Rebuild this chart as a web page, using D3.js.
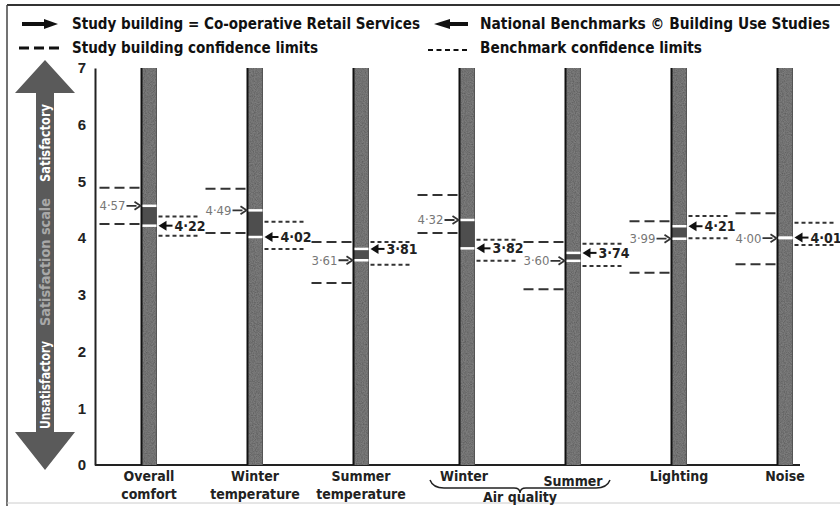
<!DOCTYPE html>
<html>
<head>
<meta charset="utf-8">
<script src="https://cdn.jsdelivr.net/npm/d3@7"></script>
<style>
  body { margin: 0; background: #fff; }
  svg { display: block; }
  text { font-family: "Liberation Sans Narrow", "DejaVu Sans Condensed", "Roboto", sans-serif; }
</style>
</head>
<body>
<svg></svg>
<script>
var width = 840,
  height = 506;

// categories and values
var categories = ["Overall comfort", "Winter temperature", "Summer temperature", "Air quality winter", "Air quality summer", "Lighting", "Noise"];
var xLabelLines = [["Overall", "comfort"], ["Winter", "temperature"], ["Summer", "temperature"], ["Winter"], ["Summer"], ["Lighting"], ["Noise"]];
var studyValues = [4.57, 4.49, 3.61, 4.32, 3.60, 3.99, 4.00];
var benchValues = [4.22, 4.02, 3.81, 3.82, 3.74, 4.21, 4.01];
var studyLow = [4.25, 4.09, 3.21, 4.09, 3.10, 3.39, 3.54];
var studyHigh = [4.89, 4.87, 3.93, 4.76, 3.93, 4.30, 4.44];
var benchLow = [4.04, 3.81, 3.53, 3.60, 3.51, 4.00, 3.88];
var benchHigh = [4.38, 4.29, 3.93, 3.97, 3.90, 4.39, 4.27];
var yTicks = [0, 1, 2, 3, 4, 5, 6, 7];

var fmt = function(v) { return d3.format(".2f")(v).replace(".", "\u00b7"); };

var svg = d3.select("svg")
  .attr("width", width)
  .attr("height", height);

var plotLeft = 95, plotRight = 800;

var x = d3.scalePoint().domain(categories).range([149, 785]);
var y = d3.scaleLinear().domain([0, 7]).range([465, 68]);
var barW = 15;

// grainy texture for the columns
var defs = svg.append("defs");
var f = defs.append("filter").attr("id", "grain").attr("x", 0).attr("y", 0).attr("width", 1).attr("height", 1);
f.append("feTurbulence").attr("type", "fractalNoise").attr("baseFrequency", 0.9).attr("numOctaves", 2).attr("result", "noise");
f.append("feColorMatrix").attr("in", "noise").attr("type", "matrix")
  .attr("values", "0 0 0 0 0  0 0 0 0 0  0 0 0 0 0  0 0 0 0.8 -0.25")
  .attr("result", "dots");
f.append("feComposite").attr("in", "dots").attr("in2", "SourceGraphic").attr("operator", "in").attr("result", "clipped");
f.append("feMerge").selectAll("feMergeNode").data(["SourceGraphic", "clipped"]).enter()
  .append("feMergeNode").attr("in", function(d) { return d; });

// frame
svg.append("line").attr("x1", 7).attr("x2", width).attr("y1", 5).attr("y2", 5)
  .attr("stroke", "#333").attr("stroke-width", 2);
svg.append("line").attr("x1", 7).attr("x2", 7).attr("y1", 5).attr("y2", height)
  .attr("stroke", "#444").attr("stroke-width", 1.5);
svg.append("line").attr("x1", 7).attr("x2", width).attr("y1", 503).attr("y2", 503)
  .attr("stroke", "#ccc").attr("stroke-width", 1);

// legend
var legend = svg.append("g");
legend.append("path").attr("d", "M22,22 H44 V19 L58,24 L44,29 V26 H22 Z").attr("fill", "#111");
legend.append("text").attr("x", 72).attr("y", 29).attr("textLength", 348).attr("lengthAdjust", "spacingAndGlyphs")
  .style("font-size", "16px").style("font-weight", "bold").attr("fill", "#111")
  .text("Study building = Co-operative Retail Services");
legend.append("path").attr("d", "M468,22 H450 V19 L434,24 L450,29 V26 H468 Z").attr("fill", "#111");
legend.append("text").attr("x", 480).attr("y", 29).attr("textLength", 350).attr("lengthAdjust", "spacingAndGlyphs")
  .style("font-size", "16px").style("font-weight", "bold").attr("fill", "#111")
  .text("National Benchmarks \u00a9 Building Use Studies");
legend.append("line").attr("x1", 19).attr("x2", 60).attr("y1", 48).attr("y2", 48)
  .attr("stroke", "#111").attr("stroke-width", 3).attr("stroke-dasharray", "10,5");
legend.append("text").attr("x", 72).attr("y", 53).attr("textLength", 246).attr("lengthAdjust", "spacingAndGlyphs")
  .style("font-size", "16px").style("font-weight", "bold").attr("fill", "#111")
  .text("Study building confidence limits");
legend.append("line").attr("x1", 428).attr("x2", 467).attr("y1", 50).attr("y2", 50)
  .attr("stroke", "#111").attr("stroke-width", 2).attr("stroke-dasharray", "5,3.5");
legend.append("text").attr("x", 480).attr("y", 53).attr("textLength", 222).attr("lengthAdjust", "spacingAndGlyphs")
  .style("font-size", "16px").style("font-weight", "bold").attr("fill", "#111")
  .text("Benchmark confidence limits");

// big satisfaction arrow on the left
var ax = 45;
svg.append("path")
  .attr("d", "M" + ax + ",60 L75,93 L54,93 L54,432 L75,432 L" + ax + ",470 L15,432 L36,432 L36,93 L15,93 Z")
  .attr("fill", "#5a5a5a");
function sideLabel(txt, cy, len, col) {
  svg.append("text")
    .attr("transform", "translate(" + (ax + 5) + "," + cy + ") rotate(-90)")
    .attr("text-anchor", "middle")
    .attr("textLength", len).attr("lengthAdjust", "spacingAndGlyphs")
    .style("font-size", "14px").style("font-weight", "bold")
    .attr("fill", col).text(txt);
}
sideLabel("Satisfactory", 143, 78, "#fff");
sideLabel("Satisfaction scale", 262, 128, "#a8a8a8");
sideLabel("Unsatisfactory", 385, 88, "#fff");

// y axis
var yAxis = d3.axisLeft(y).tickValues(yTicks).tickFormat(d3.format("d")).tickSize(0).tickPadding(9);
var gy = svg.append("g").attr("transform", "translate(" + plotLeft + ",0)").call(yAxis);
gy.select(".domain").attr("stroke", "#222").attr("stroke-width", 2);
gy.selectAll("text").style("font-size", "15px").style("font-weight", "bold")
  .style("font-family", "\"Liberation Sans\", Arial, sans-serif").attr("fill", "#222");

// baseline
svg.append("line").attr("x1", plotLeft).attr("x2", plotRight).attr("y1", y(0)).attr("y2", y(0))
  .attr("stroke", "#222").attr("stroke-width", 2);

// columns
var cols = svg.selectAll(".col").data(categories).enter().append("g").attr("class", "col");
cols.append("rect")
  .attr("x", function(d) { return x(d) - barW / 2; })
  .attr("width", barW)
  .attr("y", y(7))
  .attr("height", y(0) - y(7))
  .attr("fill", "#7b7b7b")
  .attr("filter", "url(#grain)");
cols.append("rect")
  .attr("x", function(d) { return x(d) - barW / 2; })
  .attr("width", barW)
  .attr("y", function(d, i) { return y(Math.max(studyValues[i], benchValues[i])); })
  .attr("height", function(d, i) { return Math.abs(y(studyValues[i]) - y(benchValues[i])); })
  .attr("fill", "#4e4e4e");
cols.append("line")
  .attr("x1", function(d) { return x(d) - barW / 2; })
  .attr("x2", function(d) { return x(d) - barW / 2; })
  .attr("y1", y(7)).attr("y2", y(0))
  .attr("stroke", "#111").attr("stroke-width", 2);
cols.append("line")
  .attr("x1", function(d) { return x(d) + barW / 2; })
  .attr("x2", function(d) { return x(d) + barW / 2; })
  .attr("y1", y(7)).attr("y2", y(0))
  .attr("stroke", "#555").attr("stroke-width", 1);

// white marks on the columns
[studyValues, benchValues].forEach(function(vals) {
  cols.append("line")
    .attr("x1", function(d) { return x(d) - barW / 2 + 1; })
    .attr("x2", function(d) { return x(d) + barW / 2; })
    .attr("y1", function(d, i) { return y(vals[i]); })
    .attr("y2", function(d, i) { return y(vals[i]); })
    .attr("stroke", "#fff").attr("stroke-width", 2.5);
});

// confidence limits
[studyLow, studyHigh].forEach(function(vals) {
  cols.append("line")
    .attr("x1", function(d) { return x(d) - barW / 2 - 42; })
    .attr("x2", function(d) { return x(d) - barW / 2 - 1; })
    .attr("y1", function(d, i) { return y(vals[i]); })
    .attr("y2", function(d, i) { return y(vals[i]); })
    .attr("stroke", "#333").attr("stroke-width", 2).attr("stroke-dasharray", "10,5");
});
[benchLow, benchHigh].forEach(function(vals) {
  cols.append("line")
    .attr("x1", function(d) { return x(d) + barW / 2 + 2; })
    .attr("x2", function(d) { return x(d) + barW / 2 + 42; })
    .attr("y1", function(d, i) { return y(vals[i]); })
    .attr("y2", function(d, i) { return y(vals[i]); })
    .attr("stroke", "#333").attr("stroke-width", 2).attr("stroke-dasharray", "4,3");
});

// value arrows + labels
cols.append("path")
  .attr("d", function(d, i) {
    var tip = x(d) - barW / 2 - 1, yy = y(studyValues[i]);
    return "M" + (tip - 14) + "," + yy + " H" + (tip - 4) + " M" + (tip - 6) + "," + (yy - 4) + " L" + tip + "," + yy + " L" + (tip - 6) + "," + (yy + 4);
  })
  .attr("fill", "none").attr("stroke", "#333").attr("stroke-width", 1.8);
cols.append("text")
  .attr("x", function(d) { return x(d) - barW / 2 - 16; })
  .attr("y", function(d, i) { return y(studyValues[i]) + 4.5; })
  .attr("text-anchor", "end")
  .style("font-size", "13px").attr("fill", "#777")
  .text(function(d, i) { return fmt(studyValues[i]); });
cols.append("path")
  .attr("d", function(d, i) {
    var tip = x(d) + barW / 2 + 2, yy = y(benchValues[i]);
    return "M" + tip + "," + yy + " L" + (tip + 8) + "," + (yy - 5) + " L" + (tip + 8) + "," + (yy + 5) + " Z";
  })
  .attr("fill", "#111");
cols.append("line")
  .attr("x1", function(d) { return x(d) + barW / 2 + 8; })
  .attr("x2", function(d) { return x(d) + barW / 2 + 16; })
  .attr("y1", function(d, i) { return y(benchValues[i]); })
  .attr("y2", function(d, i) { return y(benchValues[i]); })
  .attr("stroke", "#111").attr("stroke-width", 2);
cols.append("text")
  .attr("x", function(d) { return x(d) + barW / 2 + 18; })
  .attr("y", function(d, i) { return y(benchValues[i]) + 5; })
  .style("font-size", "14px").style("font-weight", "bold").attr("fill", "#222")
  .text(function(d, i) { return fmt(benchValues[i]); });

// category labels
cols.each(function(d, i) {
  var lines = xLabelLines[i];
  var t = d3.select(this).append("text")
    .attr("text-anchor", "middle")
    .style("font-size", "14px").style("font-weight", "bold").attr("fill", "#222");
  lines.forEach(function(l, j) {
    t.append("tspan").attr("x", x(d) + (i === 3 ? -3 : 0)).attr("y", (i === 4 ? 486 : 481) + j * 18).text(l);
  });
});

// air quality brace
var bx0 = x(categories[3]) - 37, bx1 = x(categories[4]) + 37, bm = (bx0 + bx1) / 2;
svg.append("path")
  .attr("d", "M" + bx0 + ",480 Q" + (bx0 + 3) + ",488 " + (bx0 + 14) + ",488 H" + (bm - 6) +
    " Q" + bm + ",488 " + bm + ",493 Q" + bm + ",488 " + (bm + 6) + ",488 H" + (bx1 - 14) +
    " Q" + (bx1 - 3) + ",488 " + bx1 + ",480")
  .attr("fill", "none").attr("stroke", "#222").attr("stroke-width", 1.5);
svg.append("text").attr("x", bm).attr("y", 502).attr("text-anchor", "middle")
  .style("font-size", "14px").style("font-weight", "bold").attr("fill", "#222")
  .text("Air quality");
</script>
</body>
</html>
